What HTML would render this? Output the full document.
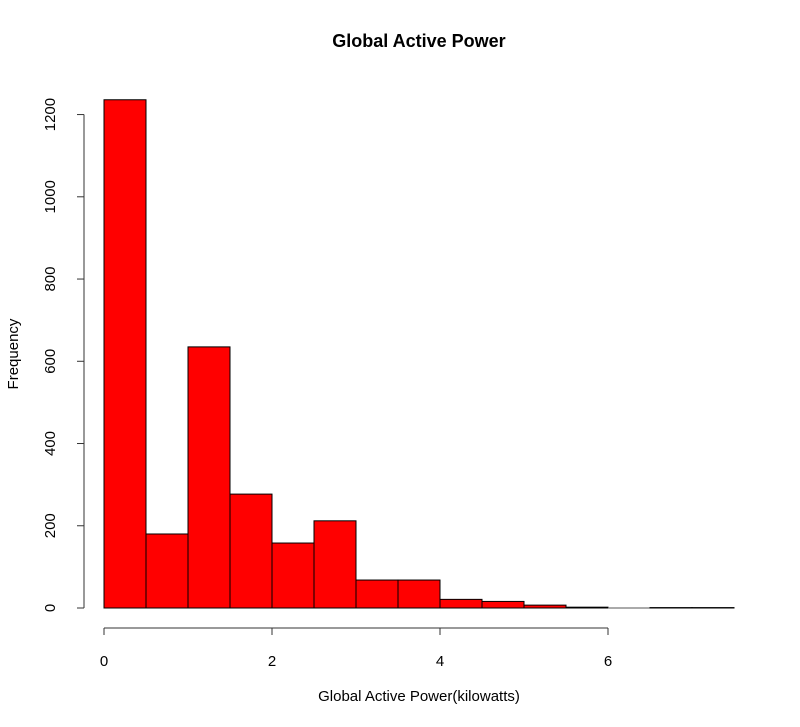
<!DOCTYPE html>
<html><head><meta charset="utf-8"><style>body{margin:0;background:#fff}svg{display:block;font-family:"Liberation Sans",sans-serif}</style></head>
<body>
<svg id="chart" width="800" height="727">
<text x="419" y="47" text-anchor="middle" font-size="18" font-weight="bold">Global Active Power</text>
<text x="419" y="701" text-anchor="middle" font-size="15">Global Active Power(kilowatts)</text>
<text transform="translate(18,354) rotate(-90)" text-anchor="middle" font-size="15">Frequency</text>
<g id="bars"></g><g id="xaxis"></g><g id="yaxis"></g>
</svg>
<script>
const binStarts=[0,0.5,1,1.5,2,2.5,3,3.5,4,4.5,5,5.5,6,6.5,7];
const counts=[1236,180,635,277,158,212,68,68,21,16,7,2,0,1,1];
const xTicks=[0,2,4,6];
const yTicks=[0,200,400,600,800,1000,1200];
const binWidth=0.5;
const ns="http://www.w3.org/2000/svg";
function X(v){return 104+v*84;}
function Y(v){return 608-v*0.4112;}
function mk(t,a,p){const e=document.createElementNS(ns,t);for(const k in a)e.setAttribute(k,a[k]);p.appendChild(e);return e;}
const bars=document.getElementById('bars');
binStarts.forEach((s,i)=>{
 let r;
 if(counts[i]===0){
  r=mk('line',{x1:X(s),x2:X(s+binWidth),y1:Y(0),y2:Y(0),stroke:'#555','stroke-width':1},bars);
 } else {
  r=mk('rect',{x:X(s),y:Y(counts[i]),width:X(s+binWidth)-X(s),height:Y(0)-Y(counts[i]),fill:'#ff0000',stroke:'#000','stroke-width':1},bars);
 }
 
 
});
const xa=document.getElementById('xaxis');
mk('line',{x1:X(0),x2:X(6),y1:628,y2:628,stroke:'#333'},xa);
xTicks.forEach(v=>{
 mk('line',{x1:X(v),x2:X(v),y1:628,y2:635,stroke:'#333'},xa);
 const t=mk('text',{x:X(v),y:666,'text-anchor':'middle','font-size':15},xa);t.textContent=v;
 
 
});
const ya=document.getElementById('yaxis');
mk('line',{x1:84,x2:84,y1:Y(0),y2:Y(1200),stroke:'#333'},ya);
yTicks.forEach(v=>{
 mk('line',{x1:77,x2:84,y1:Y(v),y2:Y(v),stroke:'#333'},ya);
 const t=mk('text',{transform:`translate(55,${Y(v)}) rotate(-90)`,'text-anchor':'middle','font-size':15},ya);t.textContent=v;
 
 
});
</script>
</body></html>
